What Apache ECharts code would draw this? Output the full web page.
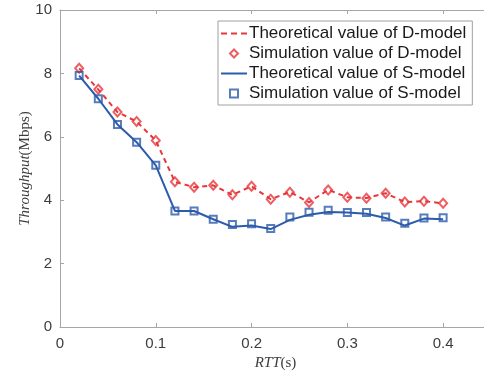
<!DOCTYPE html>
<html><head><meta charset="utf-8">
<script src="https://cdn.jsdelivr.net/npm/echarts@6/dist/echarts.min.js"></script>
<style>html,body{margin:0;padding:0;background:#fff}#c{width:484px;height:372px}</style>
</head><body><div id="c"></div>
<script>
const rtt = [0.02,0.04,0.06,0.08,0.10,0.12,0.14,0.16,0.18,0.20,0.22,0.24,0.26,0.28,0.30,0.32,0.34,0.36,0.38,0.40];
const theoD = [8.16,7.49,6.78,6.48,5.88,4.58,4.41,4.47,4.17,4.44,4.03,4.26,3.93,4.33,4.09,4.07,4.22,3.94,3.97,3.90];
const simD  = [8.16,7.50,6.78,6.48,5.88,4.58,4.41,4.47,4.17,4.44,4.03,4.25,3.93,4.32,4.09,4.06,4.22,3.94,3.97,3.90];
const theoS = [7.93,7.20,6.39,5.83,5.10,3.66,3.66,3.40,3.16,3.20,3.09,3.38,3.54,3.63,3.61,3.57,3.44,3.20,3.42,3.40];
const simS  = [7.93,7.20,6.39,5.83,5.10,3.66,3.66,3.40,3.23,3.26,3.11,3.47,3.62,3.68,3.61,3.61,3.47,3.27,3.44,3.45];
const xTicks = [0,0.1,0.2,0.3,0.4];
const yTicks = [0,2,4,6,8,10];
const names = ['Theoretical value of D-model','Simulation value of D-model','Theoretical value of S-model','Simulation value of S-model'];

const RED = '#e8363b', BLUE = '#2d5bab', AX = '#a6a6a6', TXT = '#3c3c3c';
const pairs = a => rtt.map((x,i)=>[x,a[i]]);
const chart = echarts.init(document.getElementById('c'), null, {renderer:'canvas'});
chart.setOption({
  animation:false,
  backgroundColor:'#fff',
  grid:{left:60, right:-7, top:10, bottom:45, containLabel:false, outerBoundsMode:'none'},
  legend:{
    orient:'vertical', left:218, top:21,
    padding:[4,6,3,3], itemGap:3, itemWidth:26, itemHeight:8, symbolKeepAspect:true,
    borderColor:'#a0a0a0', borderWidth:1, backgroundColor:'#fff',
    textStyle:{fontFamily:'Liberation Sans, Arial', fontSize:17, lineHeight:17, color:'#1a1a1a', padding:[0,0,0,-3]},
    data:[
      {name:names[0], icon:'path://M0,0h6v2h-6zM10,0h6v2h-6zM20,0h6v2h-6z', itemStyle:{color:RED, borderWidth:0}},
      {name:names[1], icon:'path://M4,0L8,4L4,8L0,4Z', itemStyle:{color:'rgba(255,255,255,0)', borderColor:RED, borderWidth:2}},
      {name:names[2], icon:'path://M0,0h26v2h-26z', itemStyle:{color:BLUE, borderWidth:0}},
      {name:names[3], icon:'path://M0,0h7v7h-7z', itemStyle:{color:'rgba(255,255,255,0)', borderColor:BLUE, borderWidth:2}}
    ]
  },
  xAxis:[{
    type:'value', min:0, max:0.45, interval:0.1,
    axisLine:{lineStyle:{color:AX,width:1}},
    axisTick:{inside:true, length:4, lineStyle:{color:AX}},
    splitLine:{show:false},
    axisLabel:{showMaxLabel:false, margin:9, color:TXT, fontFamily:'Liberation Sans, Arial', fontSize:15,
      formatter:v=>{const t=xTicks.find(k=>Math.abs(k-v)<1e-9);return t===undefined?'':String(t);}},
    name:'{i|RTT}{n|(s)}', nameLocation:'middle', nameGap:27,
    nameTextStyle:{rich:{i:{fontFamily:'Liberation Serif',fontStyle:'italic',fontSize:15,color:TXT},n:{fontFamily:'Liberation Serif',fontSize:15,color:TXT}}}
  },{
    type:'value', position:'top', min:0, max:0.45, interval:0.1,
    axisLine:{lineStyle:{color:AX,width:1}},
    axisTick:{inside:true, length:4, lineStyle:{color:AX}},
    axisLabel:{show:false}, splitLine:{show:false}
  }],
  yAxis:{
    type:'value', min:0, max:10, interval:2,
    axisLine:{show:true, lineStyle:{color:AX,width:1}},
    axisTick:{show:true, inside:true, length:4, lineStyle:{color:AX}},
    splitLine:{show:false},
    axisLabel:{margin:8, color:TXT, fontFamily:'Liberation Sans, Arial', fontSize:15,
      formatter:v=>{const t=yTicks.find(k=>Math.abs(k-v)<1e-9);return t===undefined?'':String(t);}},
    name:'{i|Throughput}{n|(Mbps)}', nameLocation:'middle', nameGap:27, nameMoveOverlap:false,
    nameTextStyle:{rich:{i:{fontFamily:'Liberation Serif',fontStyle:'italic',fontSize:15,color:TXT},n:{fontFamily:'Liberation Serif',fontSize:15,color:TXT}}}
  },
  series:[
    {name:names[0], type:'line', data:pairs(theoD), symbol:'none', z:2,
     lineStyle:{color:RED, width:2, type:[5,4]}, itemStyle:{color:RED}},
    {name:names[1], type:'scatter', data:pairs(simD), symbol:'diamond', symbolSize:[8,9], z:4,
     itemStyle:{color:'rgba(255,255,255,0)', borderColor:RED, borderWidth:2}},
    {name:names[2], type:'line', data:pairs(theoS), symbol:'none', z:2,
     lineStyle:{color:BLUE, width:2}, itemStyle:{color:BLUE}},
    {name:names[3], type:'scatter', data:pairs(simS), symbol:'rect', symbolSize:7, z:4,
     itemStyle:{color:'rgba(255,255,255,0)', borderColor:BLUE, borderWidth:2}}
  ]
});
</script></body></html>
